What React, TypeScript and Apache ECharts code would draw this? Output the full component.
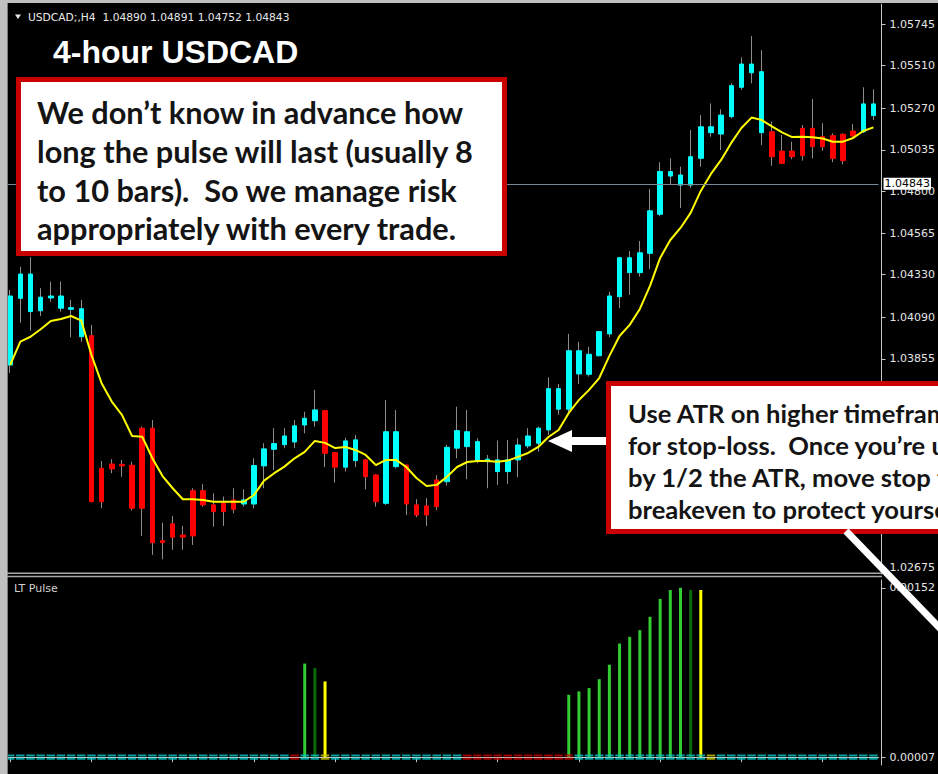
import React, { useEffect, useRef } from "react";
import * as echarts from "echarts";

// ---- price data (4-hour candles, left to right) ----
const open = [
  1.03821, 1.04197, 1.04122, 1.04127, 1.04199, 1.04141, 1.04135, 1.0398, 1.03986, 1.03238,
  1.03262, 1.0326, 1.03255, 1.03464, 1.03464, 1.02829, 1.02924, 1.02861, 1.03111, 1.03111,
  1.03031, 1.0304, 1.03059, 1.03036, 1.03036, 1.03251, 1.03345, 1.03371, 1.03386, 1.03482,
  1.03506, 1.03563, 1.03326, 1.03244, 1.03281, 1.03285, 1.032, 1.0304, 1.03247, 1.03256,
  1.03031, 1.03025, 1.03172, 1.03162, 1.03351, 1.0336, 1.03281, 1.03275, 1.03219, 1.03219,
  1.03285, 1.03364, 1.03379, 1.03454, 1.03571, 1.03571, 1.0377, 1.03768, 1.03873, 1.03996,
  1.04206, 1.04342, 1.04342, 1.04451, 1.04671, 1.04887, 1.04836, 1.04836, 1.04987, 1.05132,
  1.05124, 1.05222, 1.05388, 1.0547, 1.05132, 1.05137, 1.05028, 1.05028, 1.05156, 1.05156,
  1.05109, 1.05115, 1.05123, 1.05141, 1.05137, 1.05228,
];
const close = [
  1.0421, 1.04334, 1.04334, 1.04203, 1.0421, 1.0421, 1.04144, 1.04138, 1.03049, 1.03049,
  1.03234, 1.03251, 1.03012, 1.03012, 1.02818, 1.02818, 1.02849, 1.02849, 1.02856, 1.03031,
  1.02993, 1.02993, 1.03006, 1.03059, 1.03253, 1.03347, 1.03377, 1.0342, 1.03477, 1.0352,
  1.03567, 1.03322, 1.03244, 1.03392, 1.03398, 1.0319, 1.03049, 1.03444, 1.03444, 1.03036,
  1.02974, 1.02974, 1.03021, 1.03356, 1.0345, 1.03444, 1.03388, 1.03289, 1.03285, 1.03285,
  1.03369, 1.0342, 1.03464, 1.03687, 1.03687, 1.03901, 1.03901, 1.03881, 1.04009, 1.0421,
  1.04426, 1.04426, 1.04454, 1.04691, 1.04913, 1.04912, 1.04893, 1.04996, 1.05165, 1.05165,
  1.05231, 1.05397, 1.05519, 1.05519, 1.05476, 1.04996, 1.04959, 1.04996, 1.05002, 1.05053,
  1.05053, 1.04987, 1.04974, 1.05113, 1.05294, 1.05294,
];
const low = [
  1.03776, 1.04059, 1.04014, 1.04097, 1.04178, 1.04122, 1.03977, 1.03952, 1.03049, 1.03012,
  1.0321, 1.0319, 1.02999, 1.02856, 1.02749, 1.02724, 1.02777, 1.02777, 1.02805, 1.03021,
  1.02908, 1.02912, 1.02984, 1.03021, 1.03012, 1.03125, 1.03228, 1.03351, 1.03351, 1.03435,
  1.03473, 1.03244, 1.03157, 1.03219, 1.03244, 1.03119, 1.03021, 1.03031, 1.03238, 1.02974,
  1.02961, 1.02912, 1.03003, 1.0314, 1.03294, 1.03176, 1.03266, 1.03125, 1.03144, 1.03149,
  1.03187, 1.03351, 1.03332, 1.03426, 1.0354, 1.0355, 1.03714, 1.03755, 1.03868, 1.03977,
  1.04141, 1.04216, 1.04319, 1.04362, 1.0466, 1.04842, 1.04707, 1.0482, 1.0494, 1.05109,
  1.05034, 1.05213, 1.05373, 1.0541, 1.05062, 1.04944, 1.04955, 1.04982, 1.04974, 1.04987,
  1.0503, 1.04965, 1.04953, 1.05109, 1.0513, 1.05203,
];
const high = [
  1.04244, 1.04375, 1.04429, 1.04254, 1.04291, 1.04291, 1.04188, 1.04188, 1.04047, 1.03279,
  1.03289, 1.03285, 1.03275, 1.03473, 1.0351, 1.02931, 1.02969, 1.02912, 1.03125, 1.03148,
  1.03097, 1.03078, 1.03125, 1.03119, 1.03294, 1.03379, 1.03464, 1.03464, 1.0351, 1.03557,
  1.0368, 1.03567, 1.0333, 1.0341, 1.03426, 1.0329, 1.03205, 1.03623, 1.03567, 1.0326,
  1.03063, 1.03069, 1.032, 1.0337, 1.03585, 1.03567, 1.03407, 1.03313, 1.03394, 1.03398,
  1.03407, 1.03464, 1.03473, 1.03751, 1.03714, 1.03996, 1.03952, 1.03924, 1.04013, 1.04234,
  1.0443, 1.04464, 1.0452, 1.04814, 1.04966, 1.04987, 1.0494, 1.05147, 1.05231, 1.05297,
  1.05264, 1.0541, 1.05557, 1.05677, 1.05598, 1.05194, 1.05119, 1.05081, 1.05175, 1.05322,
  1.05185, 1.05128, 1.05128, 1.05181, 1.05388, 1.05377,
];
// yellow moving average
const ma = [
  1.03821, 1.03952, 1.0398, 1.04022, 1.04069, 1.0408, 1.04097, 1.04071, 1.03877, 1.03718,
  1.03614, 1.03539, 1.0342, 1.03416, 1.03294, 1.03194, 1.03125, 1.03063, 1.03063, 1.03059,
  1.03049, 1.03049, 1.03049, 1.03049, 1.03087, 1.03168, 1.0321, 1.03247, 1.03294, 1.0333,
  1.03392, 1.03381, 1.03352, 1.03358, 1.03341, 1.03313, 1.03256, 1.03285, 1.03285, 1.03245,
  1.03183, 1.03138, 1.03144, 1.03189, 1.03245, 1.03273, 1.03279, 1.03279, 1.03275, 1.03281,
  1.03302, 1.03324, 1.03358, 1.03414, 1.03454, 1.0355, 1.03623, 1.0368, 1.03747, 1.03872,
  1.03984, 1.04047, 1.04137, 1.04267, 1.04425, 1.04526, 1.04594, 1.04679, 1.04803, 1.04899,
  1.04978, 1.05074, 1.05158, 1.05217, 1.05203, 1.05167, 1.05133, 1.05107, 1.05109, 1.05106,
  1.05099, 1.05081, 1.05081, 1.05102, 1.05141, 1.05162,
];
// LT Pulse histogram
const pulse = [
  null, null, null, null, null, null, null, null, null, null,
  null, null, null, null, null, null, null, null, null, null,
  null, null, null, null, null, null, null, null, null, 0.00084,
  0.0008, 0.00068, null, null, null, null, null, null, null, null,
  null, null, null, null, null, null, null, null, null, null,
  null, null, null, null, null, 0.00056, 0.00059, 0.00062, 0.0007, 0.00083,
  0.00102, 0.00108, 0.00114, 0.00126, 0.00142, 0.0015, 0.00152, 0.0015, 0.0015, null,
  null, null, null, null, null, null, null, null, null, null,
  null, null, null, null, null, null,
];
// g = green, d = dark green, y = yellow, - = none
const pulseTone = "-----------------------------gdy-----------------------ggggggggggggdy-----------------".split("");
// c = cyan, r = red, y = yellow state dashes
const dashState = "ccccccccccccccccccccccccccccrccycccccccccccccrrrrrrrrrrrcccccccccccccyccccccccccccccccc".split("");

// visible price-scale labels (those under the right-hand note are hidden in the reference)
const priceTicks = [1.02675, 1.03855, 1.0409, 1.0433, 1.04565, 1.048, 1.05035, 1.0527, 1.0551, 1.05745];
const pulseTicks = [0, 0.00152];
const pulseTickText = ["0.00007", "0.00152"];
const lastPrice = 1.04843;
const headerText = "USDCAD;,H4  1.04890 1.04891 1.04752 1.04843";
const titleText = "4-hour USDCAD";
const indicatorName = "LT Pulse";
const noteRisk = [
  "We don\u2019t know in advance how",
  "long the pulse will last (usually 8",
  "to 10 bars).  So we manage risk",
  "appropriately with every trade.",
];
const noteAtr = [
  "Use ATR on higher timeframe",
  "for stop-loss.  Once you\u2019re up",
  "by 1/2 the ATR, move stop to",
  "breakeven to protect yourself.",
];

const bars = open.map((_, i) => String(i + 1));

const toneColor: Record<string, string> = { g: "#33cc33", d: "#0b6b0b", y: "#ffff00" };
const dashColor: Record<string, string> = { c: "#00c8c8", r: "#c80000", y: "#c8c800" };

export default function App() {
  const ref = useRef<HTMLDivElement>(null);
  useEffect(() => {
    if (!ref.current) return;
    const chart = echarts.init(ref.current, undefined, { renderer: "svg" });
    const axisFont = { fontFamily: "DejaVu Sans", fontSize: 11, color: "#e4e4e4" };
    const gridLeft = 5.12;
    const gridWidth = 873.76;

    const textEl = (x: number, y: number, text: string, font: string, fill: string) => ({
      type: "text",
      x,
      y,
      z: 100,
      silent: true,
      style: { text, font, fill, verticalAlign: "middle", align: "left" },
    });

    chart.setOption({
      animation: false,
      backgroundColor: "#000000",
      grid: [
        { left: gridLeft, top: 4, width: gridWidth, height: 570 },
        { left: gridLeft, top: 580, width: gridWidth, height: 185 },
      ],
      xAxis: [
        { type: "category", gridIndex: 0, data: bars, boundaryGap: true, show: false },
        {
          type: "category",
          gridIndex: 1,
          data: bars,
          boundaryGap: true,
          axisLine: { show: true, lineStyle: { color: "#c8c8c8", width: 1 } },
          axisTick: {
            show: true,
            alignWithLabel: true,
            length: 5,
            interval: (i: number) => i % 8 === 0,
            lineStyle: { color: "#c8c8c8" },
          },
          axisLabel: { show: false },
          splitLine: { show: false },
        },
      ],
      yAxis: [
        {
          type: "value",
          gridIndex: 0,
          position: "right",
          offset: 3,
          min: 1.02641,
          max: 1.05858,
          splitLine: { show: false },
          axisLine: { show: true, onZero: false, lineStyle: { color: "#c8c8c8" } },
          axisTick: { show: true, length: 4, customValues: priceTicks, lineStyle: { color: "#c8c8c8" } },
          axisLabel: {
            ...axisFont,
            margin: 8,
            customValues: priceTicks,
            formatter: (v: number) => v.toFixed(5),
          },
        },
        {
          type: "value",
          gridIndex: 1,
          position: "right",
          offset: 3,
          min: -0.00007,
          max: 0.00159,
          splitLine: { show: false },
          axisLine: { show: true, onZero: false, lineStyle: { color: "#c8c8c8" } },
          axisTick: { show: true, length: 4, customValues: pulseTicks, lineStyle: { color: "#c8c8c8" } },
          axisLabel: {
            ...axisFont,
            margin: 8,
            customValues: pulseTicks,
            formatter: (v: number) => {
              let best = 0;
              pulseTicks.forEach((t, k) => {
                if (Math.abs(t - v) < Math.abs(pulseTicks[best] - v)) best = k;
              });
              return pulseTickText[best];
            },
          },
        },
      ],
      series: [
        {
          name: "wicks",
          type: "candlestick",
          xAxisIndex: 0,
          yAxisIndex: 0,
          barWidth: 1,
          silent: true,
          itemStyle: {
            color: "#8c8c8c",
            color0: "#8c8c8c",
            borderColor: "#8c8c8c",
            borderColor0: "#8c8c8c",
            borderWidth: 1,
          },
          data: open.map((o, i) => [o, close[i], low[i], high[i]]),
        },
        {
          name: "USDCAD",
          type: "candlestick",
          xAxisIndex: 0,
          yAxisIndex: 0,
          barWidth: 5,
          silent: true,
          itemStyle: {
            color: "#00ffff",
            color0: "#ff0000",
            borderColor: "#00ffff",
            borderColor0: "#ff0000",
            borderWidth: 1,
          },
          data: open.map((o, i) => [o, close[i], Math.min(o, close[i]), Math.max(o, close[i])]),
        },
        {
          name: "MA",
          type: "line",
          xAxisIndex: 0,
          yAxisIndex: 0,
          data: ma,
          symbol: "none",
          silent: true,
          lineStyle: { color: "#ffff00", width: 2 },
          itemStyle: { color: "#ffff00" },
          markLine: {
            silent: true,
            symbol: "none",
            precision: 5,
            lineStyle: { color: "#7a8794", width: 1, type: "solid" },
            label: {
              show: true,
              position: "end",
              distance: 5,
              formatter: lastPrice.toFixed(5),
              backgroundColor: "#ffffff",
              color: "#000000",
              fontFamily: "DejaVu Sans",
              fontSize: 11,
              padding: [1, 1, 0, 1],
            },
            data: [{ yAxis: lastPrice }],
          },
        },
        {
          name: "LT Pulse",
          type: "bar",
          xAxisIndex: 1,
          yAxisIndex: 1,
          barWidth: 3,
          silent: true,
          data: pulse.map((v, i) => ({
            value: v,
            itemStyle: { color: toneColor[pulseTone[i]] || "#33cc33" },
          })),
        },
        {
          name: "state",
          type: "scatter",
          xAxisIndex: 1,
          yAxisIndex: 1,
          silent: true,
          symbol: "path://M0 0H10V2H0Z M0 3.2H10V5.2H0Z",
          symbolSize: [8.5, 5.2],
          data: dashState.map((s, i) => ({ value: [i, 0], itemStyle: { color: dashColor[s] } })),
        },
      ],
      graphic: [
        { type: "rect", z: 100, silent: true, shape: { x: 0, y: 0, width: 938, height: 3 }, style: { fill: "#c0c0c0" } },
        { type: "rect", z: 100, silent: true, shape: { x: 0, y: 0, width: 7, height: 774 }, style: { fill: "#c0c0c0" } },
        { type: "line", z: 100, silent: true, shape: { x1: 7.5, y1: 3, x2: 7.5, y2: 774 }, style: { stroke: "#7a7a7a", lineWidth: 1 } },
        { type: "line", z: 100, silent: true, shape: { x1: 7, y1: 573.3, x2: 882, y2: 573.3 }, style: { stroke: "#a8a8a8", lineWidth: 1.4 } },
        { type: "line", z: 100, silent: true, shape: { x1: 7, y1: 576.5, x2: 882, y2: 576.5 }, style: { stroke: "#a8a8a8", lineWidth: 1.4 } },
        { type: "polygon", z: 100, silent: true, shape: { points: [[15, 14.5], [21, 14.5], [18, 19]] }, style: { fill: "#e8e8e8" } },
        textEl(28, 17, headerText, "10.7px 'DejaVu Sans'", "#e8e8e8"),
        textEl(53, 51.5, titleText, "bold 32px 'Liberation Sans'", "#ffffff"),
        textEl(14, 588, indicatorName, "11px 'DejaVu Sans'", "#d0d0d0"),
        {
          type: "rect",
          z: 100,
          silent: true,
          shape: { x: 18.5, y: 79.5, width: 486, height: 174 },
          style: { fill: "#ffffff", stroke: "#c80000", lineWidth: 5 },
        },
        ...noteRisk.map((t, k) => textEl(37, 112.5 + k * 38.8, t, "bold 30.7px Lato", "#141414")),
        {
          type: "rect",
          z: 100,
          silent: true,
          shape: { x: 608.5, y: 383.5, width: 400, height: 148 },
          style: { fill: "#ffffff", stroke: "#c80000", lineWidth: 5 },
        },
        ...noteAtr.map((t, k) => textEl(628, 413 + k * 32.1, t, "bold 25.6px Lato", "#141414")),
        {
          type: "polygon",
          z: 101,
          silent: true,
          shape: {
            points: [[606, 437], [572, 437], [572, 430], [548, 441], [572, 452], [572, 445], [606, 445]],
          },
          style: { fill: "#ffffff" },
        },
        {
          type: "line",
          z: 101,
          silent: true,
          shape: { x1: 846, y1: 531, x2: 962, y2: 651 },
          style: { stroke: "#ffffff", lineWidth: 7 },
        },
      ],
    });
    return () => chart.dispose();
  }, []);

  return (
    <div
      ref={ref}
      style={{ position: "fixed", left: 0, top: 0, width: 938, height: 774, background: "#000" }}
    />
  );
}
